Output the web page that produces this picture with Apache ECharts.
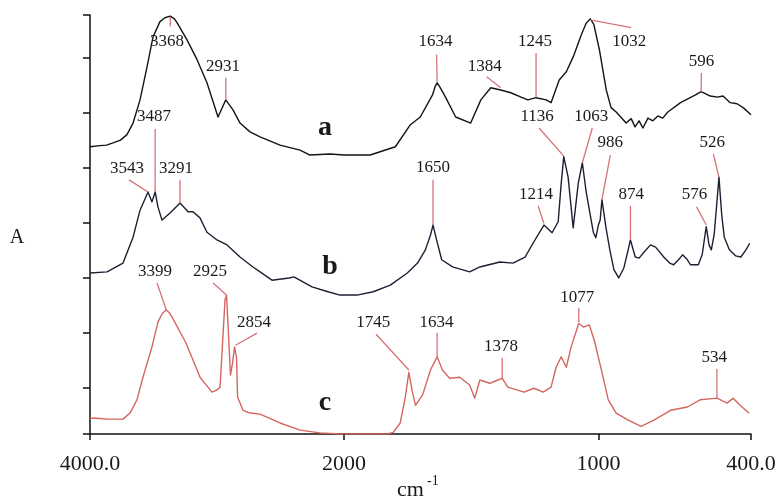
<!DOCTYPE html>
<html>
<head>
<meta charset="utf-8">
<script src="https://cdn.jsdelivr.net/npm/echarts@6/dist/echarts.min.js"></script>
<style>
  html, body { margin: 0; padding: 0; background: #ffffff; }
  #chart { width: 781px; height: 502px; }
</style>
</head>
<body>
<div id="chart"></div>
<script>
// FTIR spectra (absorbance, arbitrary offset units) vs. wavenumber in cm^-1.
// The scale below 2000 cm^-1 is expanded two-fold, so the spectrum is drawn
// in two adjoining panels that share the same absorbance axis.

// spectrum a: [wavenumber, A]
const spectrumA = [
  [4000,5.38],[3921,5.40],[3870,5.41],[3819,5.45],[3760,5.50],[3709,5.60],[3661,5.81],[3606,6.23],[3551,6.83],
  [3504,7.37],[3449,7.65],[3410,7.72],[3368,7.75],[3335,7.70],[3315,7.63],[3236,7.32],[3157,6.96],[3079,6.54],[2992,5.92],
  [2931,6.23],[2874,6.05],[2819,5.81],[2740,5.65],[2661,5.56],[2504,5.41],[2346,5.32],[2268,5.23],
  [2110,5.25],[2000,5.23],
  [1897,5.23],[1858,5.29],[1798,5.38],[1739,5.78],[1700,5.92],[1652,6.32],[1642,6.47],[1634,6.54],[1624,6.47],[1601,6.28],
  [1561,5.92],[1502,5.81],[1462,6.23],[1423,6.45],[1384,6.41],[1344,6.36],[1304,6.28],[1277,6.23],
  [1245,6.27],[1205,6.23],[1186,6.18],[1154,6.59],[1126,6.74],[1099,7.01],[1067,7.41],[1048,7.62],[1032,7.70],
  [1018,7.60],[996,7.14],[969,6.41],[950,6.09],[930,6.01],[891,5.81],[871,5.89],[856,5.74],[840,5.85],[825,5.72],
  [805,5.90],[786,5.85],[766,5.94],[747,5.90],[727,6.01],[677,6.18],[618,6.32],[596,6.38],[560,6.30],
  [532,6.28],[510,6.30],[482,6.18],[455,6.16],[431,6.09],[400,5.96]
];

// spectrum b
const spectrumB = [
  [4000,3.09],[3866,3.11],[3740,3.27],[3661,3.74],[3606,4.23],[3543,4.56],[3512,4.38],[3487,4.56],
  [3465,4.29],[3433,4.05],[3370,4.18],[3291,4.36],[3228,4.20],[3189,4.20],[3134,4.09],[3079,3.83],
  [3000,3.69],[2921,3.60],[2819,3.38],[2717,3.20],[2661,3.11],[2567,2.96],[2433,3.00],[2394,3.02],
  [2252,2.84],[2126,2.75],[2031,2.69],[2000,2.69],
  [1949,2.69],[1885,2.75],[1818,2.87],[1751,3.09],[1711,3.27],[1680,3.51],[1660,3.78],[1650,3.96],
  [1636,3.69],[1616,3.33],[1573,3.20],[1506,3.11],[1466,3.20],[1387,3.29],[1336,3.27],[1288,3.38],
  [1257,3.63],[1214,3.96],[1182,3.82],[1158,4.02],[1146,4.72],[1136,5.20],[1119,4.83],[1099,3.91],
  [1079,4.72],[1063,5.09],[1048,4.56],[1020,3.83],[1010,3.73],[1000,3.96],[993,4.05],[986,4.42],
  [970,3.91],[955,3.51],[939,3.15],[920,3.00],[900,3.18],[885,3.47],[874,3.69],[855,3.38],[840,3.36],
  [820,3.47],[795,3.60],[775,3.56],[743,3.38],[720,3.27],[704,3.24],[685,3.33],[669,3.42],[650,3.33],
  [638,3.24],[607,3.24],[592,3.42],[576,3.93],[565,3.60],[556,3.51],[545,3.78],[535,4.32],[526,4.83],
  [515,4.14],[505,3.74],[485,3.51],[460,3.40],[440,3.38],[420,3.51],[405,3.63]
];

// spectrum c
const spectrumC = [
  [4000,0.46],[3920,0.45],[3866,0.44],[3740,0.44],[3685,0.55],[3630,0.79],[3583,1.20],[3512,1.75],
  [3465,2.20],[3430,2.36],[3399,2.42],[3375,2.37],[3354,2.29],[3244,1.82],[3134,1.20],[3039,0.93],[3000,0.97],[2976,1.02],
  [2937,2.60],[2925,2.69],[2910,2.00],[2894,1.24],[2878,1.45],[2862,1.75],[2854,1.78],[2846,1.55],
  [2838,0.84],[2795,0.60],[2740,0.55],[2661,0.53],[2504,0.37],[2346,0.24],[2189,0.19],[2031,0.17],
  [2000,0.17],
  [1900,0.17],[1830,0.17],[1806,0.20],[1779,0.37],[1759,0.84],[1745,1.29],[1731,0.93],[1719,0.69],
  [1691,0.88],[1660,1.33],[1634,1.57],[1613,1.33],[1585,1.18],[1545,1.20],[1506,1.06],[1486,0.82],
  [1466,1.15],[1427,1.09],[1400,1.14],[1378,1.18],[1356,1.02],[1292,0.93],[1253,1.00],[1217,0.93],
  [1186,1.02],[1166,1.38],[1146,1.57],[1126,1.38],[1107,1.75],[1077,2.18],[1059,2.11],[1036,2.15],
  [1016,1.87],[988,1.33],[961,0.79],[930,0.55],[883,0.42],[832,0.31],[782,0.42],[716,0.60],[650,0.66],
  [600,0.79],[534,0.82],[494,0.73],[470,0.82],[443,0.69],[408,0.55]
];

const curveTags = ['a', 'b', 'c'];

// annotated bands: [wavenumber, absorbance at the tip of the leader]
const bandMarks = [
  [3368,7.74],[2931,6.23],[1634,6.56],[1384,6.45],[1245,6.28],[1032,7.68],[596,6.38],
  [3543,4.56],[3487,4.56],[3291,4.36],[1650,3.96],[1214,3.99],[1136,5.21],[1063,5.09],[986,4.42],
  [874,3.69],[576,3.96],[526,4.83],
  [3399,2.42],[2925,2.69],[2854,1.78],[1745,1.33],[1634,1.57],[1378,1.18],[1077,2.20],[534,0.82]
];

// x-axis tick values and their printed labels
const xTickValues = [4000, 2000, 1000, 400];
const xTickLabels = ['4000.0', '2000', '1000', '400.0'];
// absorbance axis tick values (no printed labels)
const yTickValues = [0.17, 1, 2, 3, 4, 5, 6, 7, 7.77];

// ---- layout (placement only) ----
// label placement for each band mark: [leader start w, leader start A, text w, text A]
const bandLabelLayout = [
  [3368,7.56,3394,7.28],[2931,6.63,2953,6.83],[1636,7.05,1640,7.28],[1439,6.65,1447,6.83],
  [1245,7.08,1249,7.28],[871,7.54,879,7.28],[595,6.72,595,6.92],
  [3693,4.78,3709,4.98],[3487,5.70,3496,5.92],[3291,4.78,3323,4.98],[1650,4.78,1650,5.00],
  [1237,4.31,1245,4.51],[1233,5.72,1241,5.92],[1024,5.72,1028,5.92],[953,5.23,953,5.45],
  [874,4.31,871,4.51],[614,4.29,622,4.51],[548,5.25,552,5.45],
  [3472,2.91,3488,3.11],[3031,2.91,3055,3.11],[2685,2.00,2709,2.20],[1874,1.98,1885,2.20],
  [1634,2.00,1636,2.20],[1378,1.55,1383,1.75],[1077,2.46,1083,2.65],[534,1.35,544,1.55]
];
// curve tag placement: [w, A]
const tagLayout = [[2150,5.72],[2110,3.20],[2150,0.73]];

const SERIF = '"Liberation Serif", "Times New Roman", serif';
const TEXT = '#1a1a1a';
const LEADER = '#d8727a';
const COLORS = ['#141414', '#1c2033', '#d4665f'];
const Y_MIN = 0.17, Y_MAX = 7.77;
const BREAK = 2000;

const chart = echarts.init(document.getElementById('chart'), null, { renderer: 'canvas' });

function part(data, high) {
  return data.filter(p => high ? p[0] >= BREAK : p[0] <= BREAK);
}

const spectra = [spectrumA, spectrumB, spectrumC];
const series = [];
spectra.forEach((s, i) => {
  [0, 1].forEach(g => {
    series.push({
      type: 'line',
      xAxisIndex: g, yAxisIndex: g,
      data: part(s, g === 0),
      showSymbol: false, symbol: 'none',
      lineStyle: { color: COLORS[i], width: 1.4, join: 'round' },
      silent: true, z: 2
    });
  });
});

function bandRenderer(params, api) {
  const idx = api.value(2);
  const lay = bandLabelLayout[idx];
  const tip = api.coord([api.value(0), api.value(1)]);
  const start = api.coord([lay[0], lay[1]]);
  const txt = api.coord([lay[2], lay[3]]);
  return {
    type: 'group',
    children: [
      { type: 'line', shape: { x1: start[0], y1: start[1], x2: tip[0], y2: tip[1] },
        style: { stroke: LEADER, lineWidth: 1.3 } },
      { type: 'text', style: { text: String(api.value(0)), x: txt[0], y: txt[1],
        align: 'center', verticalAlign: 'middle', fill: TEXT, font: '17px ' + SERIF } }
    ]
  };
}

[0, 1].forEach(g => {
  const items = [];
  bandMarks.forEach((m, i) => {
    if ((g === 0) === (m[0] >= BREAK)) items.push([m[0], m[1], i]);
  });
  series.push({
    type: 'custom', coordinateSystem: 'cartesian2d',
    xAxisIndex: g, yAxisIndex: g, clip: false, silent: true, z: 5,
    renderItem: bandRenderer, data: items
  });
});

series.push({
  type: 'custom', coordinateSystem: 'cartesian2d',
  xAxisIndex: 0, yAxisIndex: 0, clip: false, silent: true, z: 5,
  data: tagLayout.map((p, i) => [p[0], p[1], i]),
  renderItem: (params, api) => {
    const pt = api.coord([api.value(0), api.value(1)]);
    return { type: 'text', style: { text: curveTags[api.value(2)], x: pt[0], y: pt[1],
      align: 'center', verticalAlign: 'middle', fill: TEXT, font: 'bold 28px ' + SERIF } };
  }
});

const axisLine = { show: true, onZero: false, lineStyle: { color: '#111', width: 1.5 } };
function tickLabel(v) {
  const i = xTickValues.indexOf(v);
  return i >= 0 ? xTickLabels[i] : '';
}

const option = {
  animation: false,
  backgroundColor: '#ffffff',
  grid: [
    { left: 90, right: 437, top: 15, bottom: 68, containLabel: false },
    { left: 344, right: 30, top: 15, bottom: 68, containLabel: false }
  ],
  xAxis: [
    { gridIndex: 0, type: 'value', min: BREAK, max: 4000, inverse: true,
      axisLine: axisLine, splitLine: { show: false },
      axisTick: { show: true, length: 6, lineStyle: { color: '#111', width: 1.5 },
        customValues: xTickValues.filter(v => v >= BREAK) },
      axisLabel: { show: true, margin: 19, fontSize: 22, fontFamily: SERIF, color: TEXT,
        customValues: xTickValues.filter(v => v >= BREAK), formatter: tickLabel } },
    { gridIndex: 1, type: 'value', min: 400, max: BREAK, inverse: true,
      axisLine: axisLine, splitLine: { show: false },
      axisTick: { show: true, length: 6, lineStyle: { color: '#111', width: 1.5 },
        customValues: xTickValues.filter(v => v < BREAK) },
      axisLabel: { show: true, margin: 19, fontSize: 22, fontFamily: SERIF, color: TEXT,
        customValues: xTickValues.filter(v => v < BREAK), formatter: tickLabel } }
  ],
  yAxis: [
    { gridIndex: 0, type: 'value', min: Y_MIN, max: Y_MAX,
      axisLine: axisLine, splitLine: { show: false },
      axisTick: { show: true, length: 7, lineStyle: { color: '#111', width: 1.5 },
        customValues: yTickValues },
      axisLabel: { show: false } },
    { gridIndex: 1, type: 'value', min: Y_MIN, max: Y_MAX, show: false }
  ],
  graphic: [
    { type: 'text', x: 17, y: 238, silent: true,
      style: { text: 'A', font: '20px ' + SERIF, fill: TEXT, align: 'center', verticalAlign: 'middle' } },
    { type: 'text', left: 397, top: 479, silent: true,
      style: { text: 'cm', font: '22px ' + SERIF, fill: TEXT } },
    { type: 'text', left: 427, top: 474, silent: true,
      style: { text: '-1', font: '14px ' + SERIF, fill: TEXT } }
  ],
  series: series
};

chart.setOption(option);
</script>
</body>
</html>
